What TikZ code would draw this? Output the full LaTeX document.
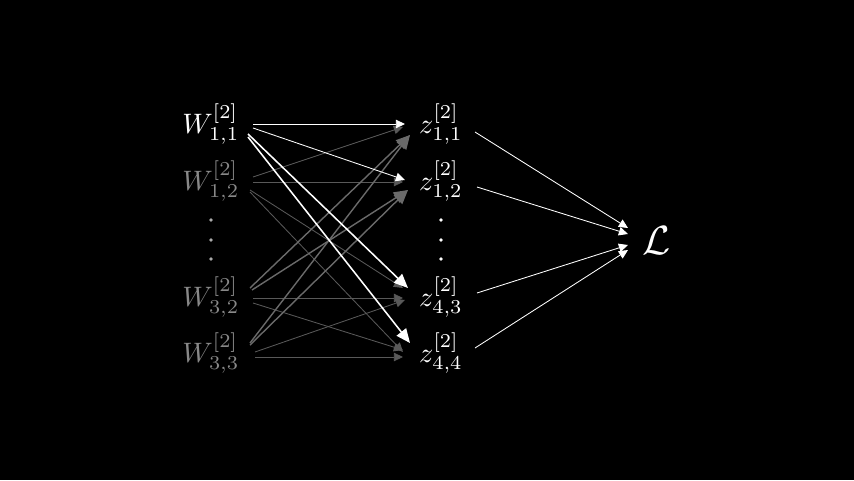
\documentclass[tikz,border=0pt]{standalone}
\usetikzlibrary{arrows.meta}

\definecolor{dimtext}{HTML}{888888}
\definecolor{dimline}{HTML}{595959}
\definecolor{midline}{HTML}{6a6a6a}
\tikzset{
  lbl/.style={text=white,inner sep=0pt,scale=2,execute at begin node=$\displaystyle,execute at end node=$},
  dimlbl/.style={lbl,text=dimtext},
  wline/.style={draw=white,line width=0.6pt,-{Triangle[length=6.5pt,width=6pt]}},
  wthick/.style={draw=white,line width=1.1pt,-{Triangle[length=10pt,width=8.5pt]}},
  gline/.style={draw=dimline,line width=0.6pt,-{Triangle[length=6.5pt,width=6pt]}},
  gthick/.style={draw=midline,line width=1pt,-{Triangle[length=10pt,width=8.5pt]}}
}

\begin{document}
\begin{tikzpicture}[x=0.025cm,y=-0.025cm]
\fill[black] (0,0) rectangle (854,480);
\useasboundingbox (0,0) rectangle (854,480);

% inputs
\node[lbl] (W11) at (211,124) {W^{[2]}_{1,1}};
\node[dimlbl] (W12) at (211,181) {W^{[2]}_{1,2}};
\node[dimlbl] (W32) at (211,297) {W^{[2]}_{3,2}};
\node[dimlbl] (W33) at (211,353) {W^{[2]}_{3,3}};
% outputs
\node[lbl] (z11) at (441,124) {z^{[2]}_{1,1}};
\node[lbl] (z12) at (441,181) {z^{[2]}_{1,2}};
\node[lbl] (z43) at (441,297) {z^{[2]}_{4,3}};
\node[lbl] (z44) at (441,353) {z^{[2]}_{4,4}};
\node[lbl,scale=1.45] (L) at (657,241) {\mathcal{L}};

\foreach \y in {220,240,259}{
  \fill[black!33!white] (211,\y) circle (1.8);
  \fill[white] (441,\y) circle (1.8);
}

% W12, W32, W33
\draw[gline] ([shift={(42,-4)}]W12.center) -- ([shift={(-38,3)}]z11.center);
\draw[gline] ([shift={(42,1)}]W12.center) -- ([shift={(-38,1)}]z12.center);
\draw[gline] ([shift={(39,9)}]W12.center) -- ([shift={(-38,-9)}]z43.center);
\draw[gline] ([shift={(39,11)}]W12.center) -- ([shift={(-38,-1)}]z44.center);
\draw[gline] ([shift={(42,1)}]W32.center) -- ([shift={(-38,1)}]z43.center);
\draw[gline] ([shift={(42,6)}]W32.center) -- ([shift={(-38,-3)}]z44.center);
\draw[gline] ([shift={(44,-1)}]W33.center) -- ([shift={(-36,3)}]z43.center);
\draw[gline] ([shift={(44,4)}]W33.center) -- ([shift={(-38,4)}]z44.center);
\draw[gthick] ([shift={(39,-9)}]W32.center) -- ([shift={(-31,11)}]z11.center);
\draw[gthick] ([shift={(41,-7)}]W32.center) -- ([shift={(-33,9)}]z12.center);
\draw[gthick] ([shift={(39,-10)}]W33.center) -- ([shift={(-31,11)}]z11.center);
\draw[gthick] ([shift={(39,-8)}]W33.center) -- ([shift={(-33,9)}]z12.center);

% W11
\draw[wline] ([shift={(42,0)}]W11.center) -- ([shift={(-36,0)}]z11.center);
\draw[wline] ([shift={(42,4)}]W11.center) -- ([shift={(-36,-1)}]z12.center);
\draw[wthick] ([shift={(37,10)}]W11.center) -- ([shift={(-33,-9)}]z43.center);
\draw[wthick] ([shift={(37,13)}]W11.center) -- ([shift={(-31,-10)}]z44.center);

% loss
\draw[wline] ([shift={(34,8)}]z11.center) -- ([shift={(-29,-13)}]L.center);
\draw[wline] ([shift={(36,6)}]z12.center) -- ([shift={(-29,-7)}]L.center);
\draw[wline] ([shift={(36,-4)}]z43.center) -- ([shift={(-29,4)}]L.center);
\draw[wline] ([shift={(34,-5)}]z44.center) -- ([shift={(-29,9)}]L.center);
\end{tikzpicture}
\end{document}
